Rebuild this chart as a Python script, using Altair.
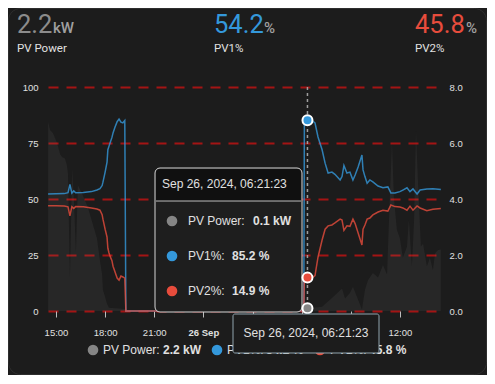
import altair as alt
import pandas as pd

# ---------------- data ----------------
PV_TIMES = [
    "2024-09-25T14:31", "2024-09-25T15:00", "2024-09-25T15:30", "2024-09-25T15:44",
    "2024-09-25T15:51", "2024-09-25T15:58", "2024-09-25T16:05", "2024-09-25T16:12",
    "2024-09-25T16:40", "2024-09-25T17:10", "2024-09-25T17:30", "2024-09-25T17:41",
    "2024-09-25T17:49", "2024-09-25T17:52", "2024-09-25T18:00", "2024-09-25T18:07",
    "2024-09-25T18:10", "2024-09-25T18:14", "2024-09-25T18:18", "2024-09-25T18:25",
    "2024-09-25T18:29", "2024-09-25T18:36", "2024-09-25T18:44", "2024-09-25T18:51",
    "2024-09-25T18:58", "2024-09-25T19:05", "2024-09-25T19:12", "2024-09-25T19:16",
    "2024-09-26T06:08", "2024-09-26T06:10", "2024-09-26T06:21:23", "2024-09-26T06:42",
    "2024-09-26T06:49", "2024-09-26T07:00", "2024-09-26T07:15", "2024-09-26T07:26",
    "2024-09-26T07:37", "2024-09-26T07:51", "2024-09-26T08:02", "2024-09-26T08:21",
    "2024-09-26T08:28", "2024-09-26T08:35", "2024-09-26T08:46", "2024-09-26T08:57",
    "2024-09-26T09:08", "2024-09-26T09:16", "2024-09-26T09:27", "2024-09-26T09:41",
    "2024-09-26T09:45", "2024-09-26T09:52", "2024-09-26T10:00", "2024-09-26T10:10",
    "2024-09-26T10:21", "2024-09-26T10:40", "2024-09-26T10:58", "2024-09-26T11:16",
    "2024-09-26T11:27", "2024-09-26T11:42", "2024-09-26T12:00", "2024-09-26T12:11",
    "2024-09-26T12:26", "2024-09-26T12:37", "2024-09-26T12:48", "2024-09-26T13:03",
    "2024-09-26T13:14", "2024-09-26T13:39", "2024-09-26T14:01", "2024-09-26T14:30",
]
PV1 = [
    52.2, 52.3, 52.4, 52.8, 56.5, 52.6, 53.6, 52.8, 52.9, 53.3, 54.0, 54.6, 56.0, 57.5,
    62.0, 66.5, 72.0, 73.5, 75.0, 77.5, 79.5, 82.0, 84.5, 85.7, 84.3, 84.0, 85.0, 0.0,
    0.0, 84.3, 85.2, 84.6, 84.0, 77.7, 72.0, 66.0, 61.6, 62.0, 61.0, 58.5, 60.0, 65.0,
    61.6, 62.0, 58.5, 60.7, 64.3, 69.6, 63.0, 60.0, 57.0, 58.5, 57.6, 55.8, 55.0, 55.4,
    52.7, 52.7, 53.3, 54.0, 55.0, 53.3, 54.5, 52.2, 54.0, 54.5, 54.6, 54.2,
]
PV2 = [
    47.0, 47.0, 46.9, 46.5, 42.5, 46.6, 45.8, 46.6, 46.5, 46.0, 45.5, 45.0, 43.0, 41.0,
    36.5, 33.0, 28.0, 26.0, 24.5, 22.5, 20.0, 17.5, 14.7, 13.8, 15.6, 15.2, 14.7, 0.0,
    0.0, 15.2, 14.9, 15.2, 15.8, 24.0, 31.7, 36.5, 38.0, 38.4, 39.3, 41.0, 40.6, 36.0,
    38.0, 37.8, 41.0, 39.0, 34.8, 29.5, 36.5, 38.4, 41.0, 41.5, 42.9, 44.2, 45.0, 44.6,
    47.3, 46.6, 46.4, 46.0, 45.0, 46.8, 45.0, 46.9, 46.0, 44.8, 45.4, 45.8,
]
POWER_TIMES = [
    "2024-09-25T14:31", "2024-09-25T14:38", "2024-09-25T14:49", "2024-09-25T15:04",
    "2024-09-25T15:15", "2024-09-25T15:22", "2024-09-25T15:33", "2024-09-25T15:40",
    "2024-09-25T15:44", "2024-09-25T15:51", "2024-09-25T15:59", "2024-09-25T16:06",
    "2024-09-25T16:13", "2024-09-25T16:20", "2024-09-25T16:35", "2024-09-25T16:57",
    "2024-09-25T17:12", "2024-09-25T17:30", "2024-09-25T17:41", "2024-09-25T17:49",
    "2024-09-25T17:52", "2024-09-25T18:00", "2024-09-25T18:07", "2024-09-25T18:14",
    "2024-09-25T19:13", "2024-09-25T19:16",
    "2024-09-26T06:15", "2024-09-26T06:21:23", "2024-09-26T07:15", "2024-09-26T07:44",
    "2024-09-26T08:10", "2024-09-26T08:28", "2024-09-26T08:39", "2024-09-26T08:57",
    "2024-09-26T09:08", "2024-09-26T09:27", "2024-09-26T09:41", "2024-09-26T09:52",
    "2024-09-26T10:03", "2024-09-26T10:21", "2024-09-26T10:40", "2024-09-26T10:58",
    "2024-09-26T11:13", "2024-09-26T11:20", "2024-09-26T11:31", "2024-09-26T11:38",
    "2024-09-26T11:49", "2024-09-26T12:00", "2024-09-26T12:11", "2024-09-26T12:26",
    "2024-09-26T12:33", "2024-09-26T12:44", "2024-09-26T12:52", "2024-09-26T12:59",
    "2024-09-26T13:06", "2024-09-26T13:17", "2024-09-26T13:25", "2024-09-26T13:39",
    "2024-09-26T13:50", "2024-09-26T14:01", "2024-09-26T14:09", "2024-09-26T14:20",
    "2024-09-26T14:30",
]
POWER_KW = [
    6.76, 6.46, 6.35, 6.0, 5.6, 5.5, 5.45, 5.2, 4.9, 1.2, 5.1, 3.9, 2.1, 4.5, 4.2, 3.7,
    3.2, 2.6, 1.8, 1.3, 0.75, 0.5, 0.25, 0.12, 0.07, 0.0,
    0.0, 0.1, 0.15, 0.4, 0.63, 0.8, 0.45, 0.64, 0.87, 0.4, 0.05, 0.75, 1.1, 1.36, 1.2,
    1.64, 1.3, 3.25, 6.05, 4.07, 2.9, 2.6, 1.9, 2.3, 3.25, 1.6, 3.25, 6.46, 4.7, 2.3,
    2.4, 1.6, 1.9, 1.46, 2.06, 2.18, 2.2,
]
SERIES = ["PV Power", "PV1%", "PV2%"]
UNITS = ["kW", "%", "%"]
PCT_TICKS = [0, 25, 50, 75, 100]
KW_TICKS = [0, 2, 4, 6, 8]
X_TICKS = [(25, 15), (25, 18), (25, 21), (26, 0), (26, 3), (26, 6), (26, 9), (26, 12)]
X_START = (25, 14, 30, 40)
X_END = (26, 14, 30, 40)
HOVER_TIME = "2024-09-26T06:21:23"

# ---------------- derived ----------------
hi_pv = PV_TIMES.index(HOVER_TIME)
hi_kw = POWER_TIMES.index(HOVER_TIME)
hover_pv1, hover_pv2, hover_kw = PV1[hi_pv], PV2[hi_pv], POWER_KW[hi_kw]
cur = [POWER_KW[-1], PV1[-1], PV2[-1]]
hover_label = pd.Timestamp(HOVER_TIME).strftime("%b %d, %Y, %H:%M:%S")

GRAY, BLUE, RED = "#858585", "#3498db", "#e74c3c"
TXT = "#e0e0e0"
AX_FONT = "Liberation Sans"

pv_df = pd.DataFrame({
    "time": PV_TIMES * 2,
    "value": PV1 + PV2,
    "series": ["PV1%"] * len(PV1) + ["PV2%"] * len(PV2),
})
kw_df = pd.DataFrame({"time": POWER_TIMES, "kw": POWER_KW})
hover_pct = pd.DataFrame({"time": [HOVER_TIME] * 2, "value": [hover_pv1, hover_pv2],
                          "series": ["PV1%", "PV2%"]})
hover_kw_df = pd.DataFrame({"time": [HOVER_TIME], "kw": [hover_kw]})
ONE = pd.DataFrame({"k": [0]})


def dt(d, h, m=0, s=0):
    return alt.DateTime(year=2024, month=9, date=d, hours=h, minutes=m, seconds=s)


x_scale = alt.Scale(domain=[dt(*X_START), dt(*X_END)], nice=False)
# labels under the hover time box (03:00-09:00) are hidden by it in the original
x_axis = alt.Axis(
    title=None, grid=False, domain=False,
    values=[dt(d, h) for d, h in X_TICKS],
    labelExpr=("hours(datum.value) == 0 ? timeFormat(datum.value, '%d %b') : "
               "(date(datum.value) == 26 && hours(datum.value) >= 3 && hours(datum.value) <= 9) ? '' : "
               "timeFormat(datum.value, '%H:%M')"),
    labelFontWeight={"condition": {"test": "hours(datum.value) == 0", "value": "bold"}, "value": "normal"},
    tickColor="#bdbdbd", tickSize=6, tickWidth=1, labelPadding=10,
    labelColor=TXT, labelFontSize=9.5, labelFont=AX_FONT)
X = alt.X("time:T", scale=x_scale, axis=x_axis)

pct_scale = alt.Scale(domain=[0, 100], nice=False)
kw_scale = alt.Scale(domain=[0, 8], nice=False)
color_scale = alt.Scale(domain=["PV1%", "PV2%"], range=[BLUE, RED])


def txt(s, x, y, size=12, color=TXT, weight="normal", font=AX_FONT, align="left", baseline="middle"):
    return alt.Chart(ONE).mark_text(
        text=s, fontSize=size, color=color, fontWeight=weight, font=font,
        align=align, baseline=baseline).encode(x=alt.value(x), y=alt.value(y))


def dot(x, y, color, size=113):
    return alt.Chart(ONE).mark_point(filled=True, shape="circle", size=size, color=color,
                                     opacity=1).encode(x=alt.value(x), y=alt.value(y))


def box(x1, x2, y1, y2, **kw):
    return alt.Chart(ONE).mark_rect(**kw).encode(
        x=alt.value(x1), x2=alt.value(x2), y=alt.value(y1), y2=alt.value(y2))


# card outline (stroke only, so the axes stay visible)
card = box(-39.5, 438.5, -78.5, 287.5, fill="#1c1c1c", fillOpacity=0, stroke="#2e2e2e",
           strokeWidth=1, cornerRadius=12)

area = alt.Chart(kw_df).mark_area(
    color="#8a8a8a", opacity=0.1, interpolate="linear",
).encode(
    x=X,
    y=alt.Y("kw:Q", scale=kw_scale, axis=alt.Axis(
        orient="right", title=None, values=KW_TICKS, format=".1f", grid=False,
        domain=False, ticks=False, labelPadding=8, labelColor=TXT,
        labelFontSize=9.5, labelFont=AX_FONT)),
)

lines = alt.Chart(pv_df).mark_line(strokeWidth=1.5, opacity=0.8, interpolate="linear").encode(
    x=X,
    y=alt.Y("value:Q", scale=pct_scale, axis=alt.Axis(
        orient="left", title=None, values=PCT_TICKS, grid=True, gridColor="#a31414",
        gridDash=[10, 8], gridWidth=2, gridOpacity=1, domain=False, ticks=False,
        labelPadding=10, labelColor=TXT, labelFontSize=9.5, labelFont=AX_FONT)),
    color=alt.Color("series:N", scale=color_scale, legend=None),
)

rule = alt.Chart(hover_kw_df).mark_rule(color="#9e9e9e", strokeDash=[3, 3], strokeWidth=1.5).encode(x=X)

tip = [
    box(107, 254, 81, 225, fill="#1e1e1e", stroke="#d4d4d4", strokeWidth=1, cornerRadius=5),
    box(108, 253, 82, 114, fill="#101010", cornerRadiusTopLeft=4, cornerRadiusTopRight=4),
    alt.Chart(ONE).mark_rule(color="#bdbdbd", strokeWidth=1).encode(
        x=alt.value(108), x2=alt.value(253), y=alt.value(114)),
    txt(hover_label, 114, 97),
    dot(124, 134, GRAY), txt(SERIES[0] + ":", 140, 134), txt(f"{hover_kw:.1f} {UNITS[0]}", 205, 134, weight="bold"),
    dot(124, 169, BLUE), txt(SERIES[1] + ":", 140, 169), txt(f"{hover_pv1:.1f} {UNITS[1]}", 184, 169, weight="bold"),
    dot(124, 204, RED), txt(SERIES[2] + ":", 140, 204), txt(f"{hover_pv2:.1f} {UNITS[2]}", 184, 204, weight="bold"),
]

pct_pts = alt.Chart(hover_pct).mark_point(filled=True, shape="circle", size=100, stroke="white",
                                          strokeWidth=2, opacity=1).encode(
    x=X,
    y=alt.Y("value:Q", scale=pct_scale, axis=None),
    fill=alt.Color("series:N", scale=color_scale, legend=None),
)
kw_pt = alt.Chart(hover_kw_df).mark_point(filled=True, shape="circle", size=100, stroke="white",
                                          strokeWidth=2, fill=GRAY, opacity=1).encode(
    x=X,
    y=alt.Y("kw:Q", scale=kw_scale, axis=None),
)

legend = [
    dot(45, 263, GRAY), txt(SERIES[0] + ":", 55, 263), txt(f"{cur[0]:.1f} {UNITS[0]}", 115, 263, weight="bold"),
    dot(169, 263, BLUE), txt(SERIES[1] + ":", 179, 263), txt(f"{cur[1]:.1f} {UNITS[1]}", 218, 263, weight="bold"),
    dot(272, 263, RED), txt(SERIES[2] + ":", 282, 263), txt(f"{cur[2]:.1f} {UNITS[2]}", 321, 263, weight="bold"),
]

xtip = [
    box(185, 331, 227, 266, fill="#1c1c1c", stroke="#90a4ae", strokeWidth=1, cornerRadius=2),
    txt(hover_label, 258, 246, align="center"),
]

header = []
for (xv, xu, val, unit, name, col) in [
    (-31, 5, cur[0], UNITS[0], SERIES[0], "#8c8c8c"),
    (166, 216, cur[1], UNITS[1], SERIES[1], BLUE),
    (367, 418, cur[2], UNITS[2], SERIES[2], RED),
]:
    header += [
        txt(f"{val:.1f}", xv, -54, size=25.5, color=col, font="Roboto", baseline="alphabetic"),
        txt(unit, xu, -54, size=15, color="#a0a0a0", font="Roboto", weight=500, baseline="alphabetic"),
        txt(name, xv, -38.5, size=11.5, color="#e1e1e1", font="Roboto"),
    ]

chart = alt.layer(
    card, area, lines, rule, *tip, pct_pts, kw_pt, *legend, *xtip, *header
).resolve_scale(y="independent").properties(
    width=393, height=224,
    autosize=alt.AutoSizeParams(type="none"),
    padding={"left": 40, "top": 79, "right": 46, "bottom": 64},
).configure(background="#1c1c1c").configure_view(strokeOpacity=0)

chart.save("out.html", embed_options={"renderer": "svg", "actions": False})
